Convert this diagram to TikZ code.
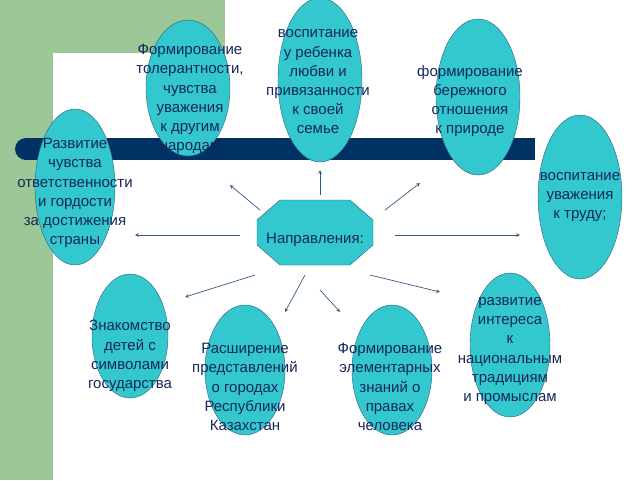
\documentclass[tikz,border=0pt]{standalone}
\usepackage{fontspec}
\setmainfont{Liberation Sans}
\usetikzlibrary{shapes.geometric}
\definecolor{grn}{RGB}{155,200,150}
\definecolor{navy}{RGB}{0,50,100}
\definecolor{cyan2}{RGB}{50,200,205}
\definecolor{txt}{RGB}{20,40,90}
\begin{document}
\begin{tikzpicture}[x=1pt,y=-1pt,
  ell/.style={draw=navy!80,fill=cyan2},
  lbl/.style={text=txt,align=center,inner sep=0pt,font=\fontsize{15}{19.2}\selectfont},
  arr/.style={-stealth,draw=navy!80,line width=0.7pt}]
\useasboundingbox (0,0) rectangle (640,480);
\fill[white] (0,0) rectangle (640,480);
\fill[grn] (0,0) rectangle (225,53);
\fill[grn] (0,0) rectangle (53,480);
\fill[white] (53,480) -- (53,68) arc[start angle=180,end angle=90,x radius=15,y radius=-15] -- (225,53) -- (225,480) -- cycle;
\fill[navy] (26,138) rectangle (535,160);
\fill[navy] (26,149) circle[radius=11];
\foreach \n/\x/\y/\rx/\ry in {a/188/88/42/68, b/320/80/42/82, c/478/97/42/78, d/75/187/40/78, e/580/197/42/82, f/130/336/38/62, g/245/370/40/65, h/392/370/40/65, i/510/345/40/72}
  \draw[ell] (\x,\y) ellipse[x radius=\rx,y radius=\ry];
\node[lbl] (a) at (190,99) {Формирование\\толерантности,\\чувства\\уважения\\к другим\\народам};
\node[lbl] (b) at (318,82) {воспитание\\у ребенка\\любви и\\привязанности\\к своей\\семье};
\node[lbl] (c) at (470,101) {формирование\\бережного\\отношения\\к природе};
\node[lbl] (d) at (75,193) {Развитие\\чувства\\ответственности\\и гордости\\за достижения\\страны};
\node[lbl] (e) at (580,197) {воспитание\\уважения\\к труду;};
\node[lbl] (f) at (130,356) {Знакомство\\детей с\\символами\\государства};
\node[lbl] (g) at (245,387) {Расширение\\представлений\\о городах\\Республики\\Казахстан};
\node[lbl] (h) at (390,387) {Формирование\\элементарных\\знаний о\\правах\\человека};
\node[lbl] (i) at (510,351) {развитие\\интереса\\к\\национальным\\традициям\\и промыслам};
\fill[cyan2,draw=navy!80] (280,200) -- (350,200) -- (373,220) -- (373,245) -- (350,265) -- (280,265) -- (257,245) -- (257,220) -- cycle;
\node[lbl] (o) at (315,240) {Направления:};
\coordinate (s1) at (260,210); \coordinate (t1) at (230,185);
\coordinate (s2) at (320,195); \coordinate (t2) at (320,170);
\coordinate (s3) at (385,210); \coordinate (t3) at (420,183);
\coordinate (s4) at (240,235); \coordinate (t4) at (135,235);
\coordinate (s5) at (395,235); \coordinate (t5) at (520,235);
\coordinate (s6) at (255,275); \coordinate (t6) at (185,297);
\coordinate (s7) at (305,275); \coordinate (t7) at (285,312);
\coordinate (s8) at (320,290); \coordinate (t8) at (340,312);
\coordinate (s9) at (370,275); \coordinate (t9) at (440,292);
\foreach \k in {1,...,9} \draw[arr] (s\k) -- (t\k);
\end{tikzpicture}
\end{document}
